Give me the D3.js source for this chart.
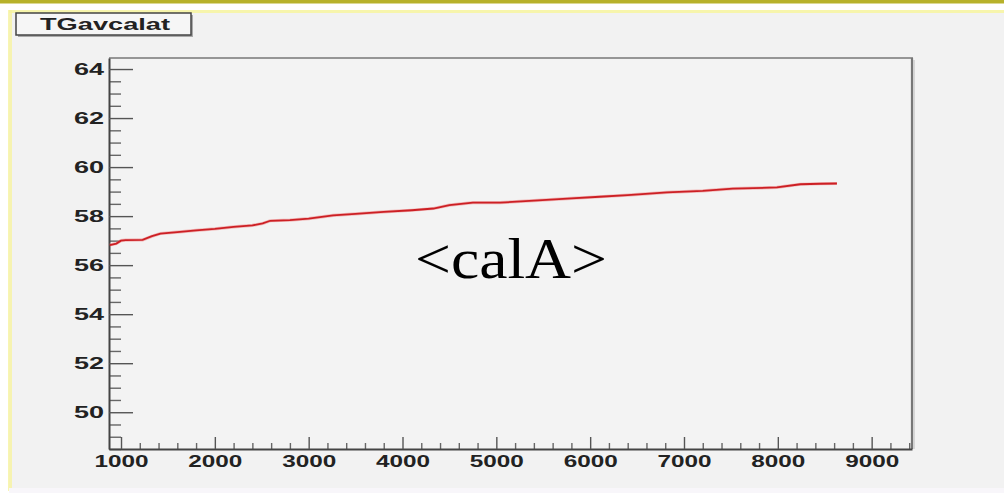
<!DOCTYPE html>
<html><head><meta charset="utf-8">
<script src="https://cdn.jsdelivr.net/npm/d3@7"></script>
<style>
html,body{margin:0;padding:0;background:#fff;}
svg{display:block;}
</style></head>
<body>
<svg id="c" width="1004" height="493"></svg>
<script>
// ---- data ----
const runNumber = [880, 950, 1000, 1050, 1230, 1330, 1420, 1600, 1800, 2000, 2200, 2400, 2510, 2590, 2800, 3000, 3260, 3500, 3800, 4100, 4330, 4500, 4750, 5040, 5400, 5800, 6100, 6400, 6820, 7200, 7520, 7990, 8240, 8450, 8630];
const calA      = [56.82, 56.88, 57.00, 57.02, 57.03, 57.18, 57.29, 57.35, 57.42, 57.48, 57.56, 57.62, 57.70, 57.81, 57.84, 57.90, 58.03, 58.09, 58.17, 58.24, 58.31, 58.45, 58.55, 58.55, 58.63, 58.72, 58.79, 58.86, 58.97, 59.03, 59.12, 59.17, 59.30, 59.32, 59.33];
const xTickValues = [1000, 2000, 3000, 4000, 5000, 6000, 7000, 8000, 9000];
const yTickValues = [50, 52, 54, 56, 58, 60, 62, 64];
const titleText = "TGavcalat";
const overlayText = "<calA>";

const svg = d3.select("#c");

// background & decoration
svg.append("rect").attr("x",0).attr("y",0).attr("width",1004).attr("height",493).attr("fill","#ffffff");
svg.append("rect").attr("x",0).attr("y",0).attr("width",1004).attr("height",3.5).attr("fill","#b7b12a");
svg.append("rect").attr("x",9).attr("y",10).attr("width",995).attr("height",481).attr("fill","#f2f2f2");
svg.append("rect").attr("x",9).attr("y",10).attr("width",995).attr("height",3).attr("fill","#f7f59a").attr("opacity",0.8);
svg.append("rect").attr("x",8).attr("y",10).attr("width",4).attr("height",481).attr("fill","#f6f3a0").attr("opacity",0.8);
svg.append("rect").attr("x",9).attr("y",488).attr("width",995).attr("height",5).attr("fill","#f8f6fa");

const L = 109, R = 912, T = 58, B = 449;
const x = d3.scaleLinear().domain([872, 9430]).range([L, R]);
const y = d3.scaleLinear().domain([48.5, 64.45]).range([B, T]);

// frame
svg.append("rect").attr("x",L).attr("y",T).attr("width",R-L).attr("height",B-T)
  .attr("fill","#f3f3f3").attr("stroke","none");
svg.append("line").attr("x1",L).attr("x2",R+1).attr("y1",T).attr("y2",T).attr("stroke","#777").attr("stroke-width",1.6);
svg.append("line").attr("x1",R).attr("x2",R).attr("y1",T).attr("y2",B).attr("stroke","#777").attr("stroke-width",2.2);
svg.append("line").attr("x1",R+2).attr("x2",R+2).attr("y1",T+2).attr("y2",B).attr("stroke","#ccc").attr("stroke-width",1.5);

const font = "Liberation Sans, Arial, sans-serif";

// minor ticks
const yMinor = d3.range(48.5, 64.01, 0.5).filter(v => Math.abs(v % 2) > 1e-6);
const xMinor = d3.range(1000, 9401, 200).filter(v => v % 1000 !== 0);

const gyMinor = svg.append("g").attr("transform",`translate(${L},0)`)
  .call(d3.axisLeft(y).tickValues(yMinor).tickSize(-12).tickFormat(""));
const gxMinor = svg.append("g").attr("transform",`translate(0,${B})`)
  .call(d3.axisBottom(x).tickValues(xMinor).tickSize(-6).tickFormat(""));
[gyMinor,gxMinor].forEach(g=>{g.select(".domain").remove(); g.selectAll("line").attr("stroke","#666").attr("stroke-width",1.4);});

// major axes
const gy = svg.append("g").attr("transform",`translate(${L},0)`)
  .call(d3.axisLeft(y).tickValues(yTickValues).tickSize(-24).tickSizeOuter(0).tickPadding(5).tickFormat(d3.format("d")));
const gx = svg.append("g").attr("transform",`translate(0,${B})`)
  .call(d3.axisBottom(x).tickValues(xTickValues).tickSize(-12).tickSizeOuter(0).tickPadding(7).tickFormat(d3.format("d")));
[gy,gx].forEach(g=>{
  g.select(".domain").attr("stroke","#444").attr("stroke-width",2);
  g.selectAll(".tick line").attr("stroke","#555").attr("stroke-width",1.4);
});
gy.selectAll(".tick text").attr("font-family",font).attr("font-weight","bold").attr("font-size",16)
  .attr("fill","#222").attr("textLength",30).attr("lengthAdjust","spacingAndGlyphs");
gx.selectAll(".tick text").attr("font-family",font).attr("font-weight","bold").attr("font-size",16)
  .attr("fill","#222").attr("textLength",54).attr("lengthAdjust","spacingAndGlyphs");

// data line
const line = d3.line().x((d,i)=>x(runNumber[i])).y(d=>y(d)).curve(d3.curveLinear);
svg.append("path").datum(calA).attr("d",line).attr("fill","none")
  .attr("stroke","#f07070").attr("stroke-width",3.2).attr("opacity",0.45);
svg.append("path").datum(calA).attr("d",line).attr("fill","none")
  .attr("stroke","#cc1f24").attr("stroke-width",1.8);

// title box
svg.append("rect").attr("x",18).attr("y",15).attr("width",175).attr("height",22).attr("fill","#aaa");
svg.append("rect").attr("x",16).attr("y",13).attr("width",175).attr("height",22)
  .attr("fill","#f6f6f6").attr("stroke","#444").attr("stroke-width",1.5);
svg.append("text").attr("x",40).attr("y",30).attr("font-family",font).attr("font-weight","bold")
  .attr("font-size",17).attr("fill","#222").attr("textLength",130).attr("lengthAdjust","spacingAndGlyphs")
  .text(titleText);

// overlay label
svg.append("text").attr("x",415).attr("y",278).attr("font-family","Liberation Serif, Times New Roman, serif")
  .attr("font-size",56).attr("fill","#000").attr("textLength",192).attr("lengthAdjust","spacingAndGlyphs")
  .text(overlayText);
</script>
</body></html>
